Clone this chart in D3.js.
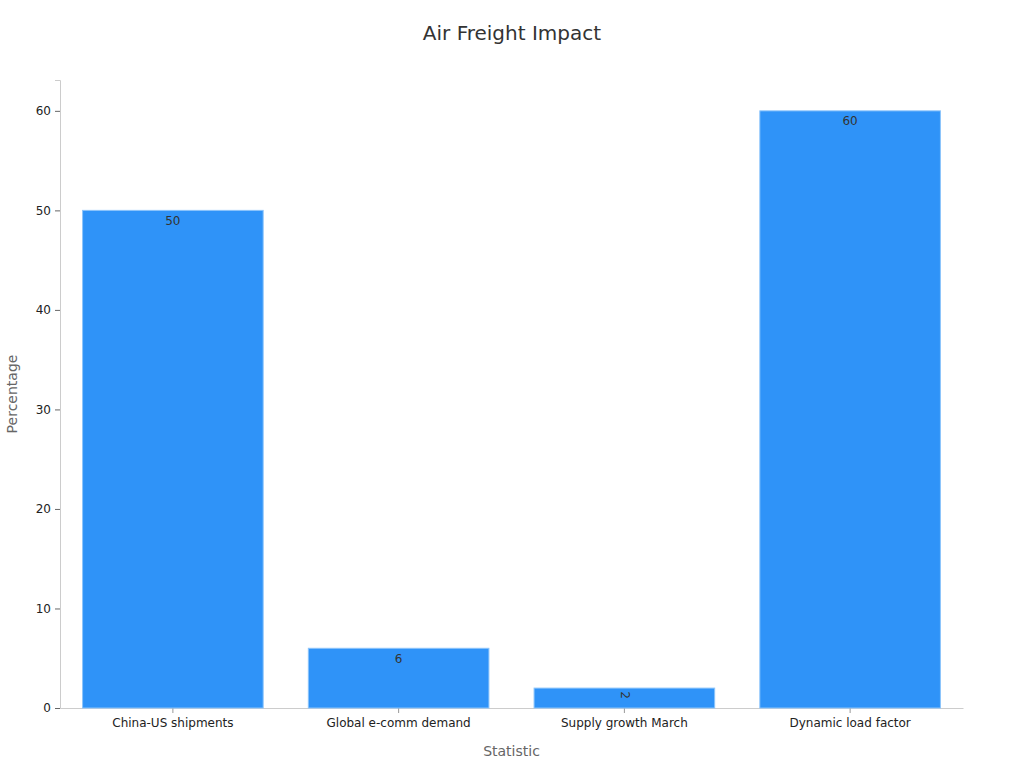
<!DOCTYPE html>
<meta charset="utf-8">
<script src="https://d3js.org/d3.v7.min.js"></script>
<style>
  body { margin: 0; background: #fff; }
  text { font-family: "DejaVu Sans", sans-serif; }
</style>
<div id="chart"></div>
<script>

// data
const categories = ["China-US shipments", "Global e-comm demand", "Supply growth March", "Dynamic load factor"];
const values = [50, 6, 2, 60];
const yTicks = [0, 10, 20, 30, 40, 50, 60];

const W = 1024, H = 768;
const margin = {top: 80, right: 61, bottom: 60, left: 60};
const width = W - margin.left - margin.right,
      height = H - margin.top - margin.bottom;

const svg = d3.select("#chart").append("svg")
  .attr("width", W).attr("height", H);

const g = svg.append("g")
  .attr("transform", `translate(${margin.left},${margin.top})`);

const x = d3.scaleBand()
  .domain(categories)
  .range([0, width])
  .paddingInner(0.2)
  .paddingOuter(0.1);

const y = d3.scaleLinear()
  .domain([0, 63.1])
  .range([height, 0]);

// y axis
const yAxis = g.append("g")
  .call(d3.axisLeft(y).tickValues(yTicks).tickSize(5).tickPadding(4));
yAxis.select(".domain").attr("stroke", "#ccc");
yAxis.selectAll(".tick line").attr("stroke", "#666");
yAxis.selectAll(".tick text").attr("fill", "#222").style("font-size", "12px");

// x axis
const xAxis = g.append("g")
  .attr("transform", `translate(0,${height})`)
  .call(d3.axisBottom(x).tickSize(5).tickPadding(5).tickSizeOuter(0));
xAxis.select(".domain").attr("stroke", "#ccc");
xAxis.selectAll(".tick line").attr("stroke", "#999");
xAxis.selectAll(".tick text").attr("fill", "#222").style("font-size", "12px");

const data = categories.map((c, i) => ({cat: c, value: values[i]}));

// bars
g.selectAll("rect.bar")
  .data(data)
  .join("rect")
    .attr("class", "bar")
    .attr("x", d => x(d.cat))
    .attr("y", d => y(d.value))
    .attr("width", x.bandwidth())
    .attr("height", d => height - y(d.value))
    .attr("fill", "#2f93f8")
    .attr("stroke", "#8cc4fb")
    .attr("stroke-width", 1);

// value labels
g.selectAll("text.lbl")
  .data(data)
  .join("text")
    .attr("class", "lbl")
    .attr("transform", d => {
      const cx = x(d.cat) + x.bandwidth() / 2, cy = y(d.value) + 11;
      return d.value < 3 ? `translate(${cx},${cy - 4}) rotate(90)` : `translate(${cx},${cy})`;
    })
    .attr("text-anchor", "middle")
    .attr("dominant-baseline", "middle")
    .attr("fill", "#333")
    .style("font-size", "12px")
    .text(d => d.value);

// title
svg.append("text")
  .attr("x", W / 2).attr("y", 40)
  .attr("text-anchor", "middle")
  .attr("fill", "#333")
  .style("font-size", "20px")
  .text("Air Freight Impact");

// axis titles
svg.append("text")
  .attr("x", margin.left + width / 2).attr("y", 756)
  .attr("text-anchor", "middle")
  .attr("fill", "#666")
  .style("font-size", "14px")
  .text("Statistic");

svg.append("text")
  .attr("transform", `translate(17,${margin.top + height / 2}) rotate(-90)`)
  .attr("text-anchor", "middle")
  .attr("fill", "#666")
  .style("font-size", "14px")
  .text("Percentage");

</script>
